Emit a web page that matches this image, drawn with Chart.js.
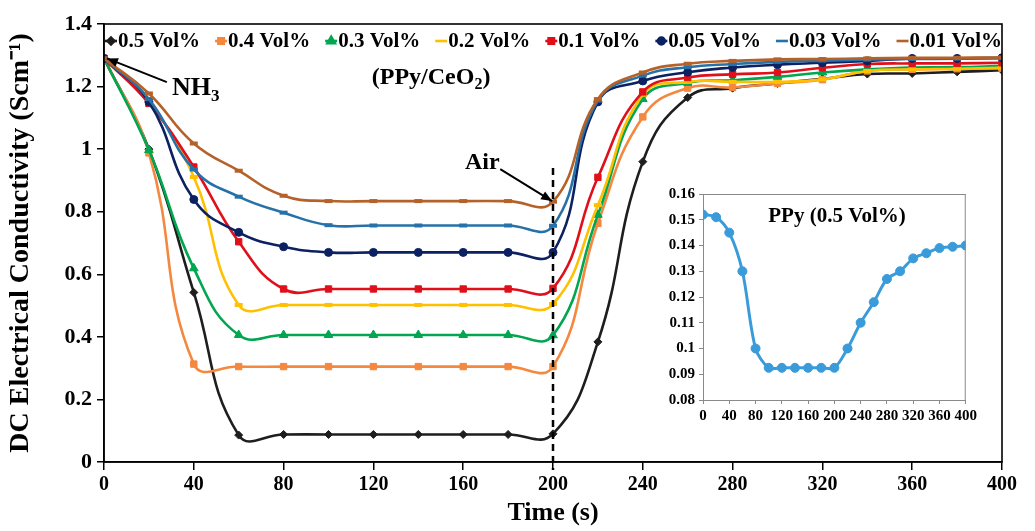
<!DOCTYPE html>
<html><head><meta charset="utf-8">
<script src="https://cdn.jsdelivr.net/npm/chart.js@4.4.1/dist/chart.umd.min.js"></script>
<style>
html,body{margin:0;padding:0;background:#fff;}
#wrap{position:relative;width:1035px;height:531px;overflow:hidden;}
#main{position:absolute;left:0;top:0;}
#inset{position:absolute;left:650px;top:180px;}
</style></head><body>
<div id="wrap"><canvas id="main" width="1035" height="531"></canvas><canvas id="inset" width="330" height="250"></canvas></div>
<script>
// ---------- data ----------
const time = [0,20,40,60,80,100,120,140,160,180,200,220,240,260,280,300,320,340,360,380,400];
const seriesLabels = ['0.5 Vol%','0.4 Vol%','0.3 Vol%','0.2 Vol%','0.1 Vol%','0.05 Vol%','0.03 Vol%','0.01 Vol%'];
const s05  = [1.29,1.00,0.542,0.086,0.088,0.088,0.088,0.088,0.088,0.088,0.090,0.384,0.960,1.165,1.195,1.210,1.225,1.240,1.242,1.247,1.252];
const s04  = [1.29,0.988,0.313,0.305,0.305,0.305,0.305,0.305,0.305,0.305,0.305,0.763,1.103,1.195,1.197,1.210,1.222,1.250,1.255,1.257,1.258];
const s03  = [1.29,0.997,0.619,0.406,0.406,0.406,0.406,0.406,0.406,0.406,0.405,0.790,1.160,1.212,1.220,1.231,1.245,1.255,1.261,1.262,1.266];
const s02  = [1.29,1.150,0.911,0.502,0.502,0.502,0.502,0.502,0.502,0.502,0.505,0.821,1.174,1.215,1.215,1.215,1.223,1.250,1.255,1.257,1.260];
const s01  = [1.29,1.146,0.943,0.704,0.553,0.553,0.553,0.553,0.553,0.553,0.555,0.910,1.183,1.229,1.239,1.245,1.260,1.272,1.274,1.274,1.276];
const s005 = [1.29,1.151,0.839,0.734,0.688,0.670,0.670,0.670,0.670,0.670,0.670,1.151,1.218,1.246,1.261,1.270,1.276,1.282,1.290,1.290,1.292];
const s003 = [1.29,1.160,0.935,0.848,0.797,0.757,0.756,0.756,0.756,0.756,0.755,1.155,1.235,1.262,1.272,1.279,1.283,1.286,1.288,1.289,1.290];
const s001 = [1.29,1.178,1.018,0.931,0.851,0.834,0.834,0.834,0.834,0.834,0.832,1.160,1.245,1.273,1.282,1.287,1.288,1.290,1.292,1.292,1.293];
const xTicks = [0,40,80,120,160,200,240,280,320,360,400];
const yTicks = [0,0.2,0.4,0.6,0.8,1,1.2,1.4];

const insetTime = [0,20,40,60,80,100,120,140,160,180,200,220,240,260,280,300,320,340,360,380,400];
const ppy = [0.152,0.151,0.145,0.130,0.100,0.0925,0.0925,0.0925,0.0925,0.0925,0.0925,0.100,0.110,0.118,0.127,0.130,0.135,0.137,0.139,0.1395,0.140];
const insetXTicks = [0,40,80,120,160,200,240,280,320,360,400];
const insetYTicks = [0.08,0.09,0.10,0.11,0.12,0.13,0.14,0.15,0.16];
const insetTitle = 'PPy (0.5 Vol%)';

// ---------- styles ----------
const FF = "'Liberation Serif','Times New Roman',serif";
Chart.defaults.font.family = FF;
Chart.defaults.font.weight = 'bold';
Chart.defaults.color = '#000';

const allSeries = [s05,s04,s03,s02,s01,s005,s003,s001];
const colors = ['#1e1e1e','#F4883F','#00A650','#FFC000','#E0101B','#0B2161','#2672A8','#B5622A'];
const pStyles = ['rectRot','rect','triangle','line','rect','circle','line','line'];
const pRadius = [4,4.5,5,4,4.5,4,4,4];
const pBorder = [1,1,1,4,1,1,4,4];

const datasets = allSeries.map((arr,i)=>({
  label: seriesLabels[i],
  data: arr.map((v,j)=>({x:time[j], y:v})),
  borderColor: colors[i],
  backgroundColor: colors[i],
  pointBackgroundColor: colors[i],
  pointBorderColor: colors[i],
  pointStyle: pStyles[i],
  pointRadius: pRadius[i],
  pointBorderWidth: pBorder[i],
  borderWidth: 2.6,
  tension: 0.45,
  order: allSeries.length - i
}));

function arrow(ctx,x1,y1,x2,y2){
  ctx.beginPath(); ctx.moveTo(x1,y1); ctx.lineTo(x2,y2); ctx.stroke();
  const ang = Math.atan2(y2-y1,x2-x1), L=11, W=4.5;
  ctx.beginPath();
  ctx.moveTo(x2,y2);
  ctx.lineTo(x2-L*Math.cos(ang)+W*Math.sin(ang), y2-L*Math.sin(ang)-W*Math.cos(ang));
  ctx.lineTo(x2-L*Math.cos(ang)-W*Math.sin(ang), y2-L*Math.sin(ang)+W*Math.cos(ang));
  ctx.closePath(); ctx.fill();
}

const framePlugin = {
  id:'frameAnno',
  afterDatasetsDraw(chart){
    const ctx = chart.ctx, a = chart.chartArea, xs = chart.scales.x, ys = chart.scales.y;
    ctx.save();
    // dashed line at Air injection
    ctx.strokeStyle='#000'; ctx.lineWidth=2.5; ctx.setLineDash([7,5]);
    const xd = xs.getPixelForValue(200);
    ctx.beginPath(); ctx.moveTo(xd, ys.getPixelForValue(0.94)); ctx.lineTo(xd, a.bottom+8); ctx.stroke();
    ctx.setLineDash([]);
    // frame
    ctx.lineWidth=1.6; ctx.strokeRect(a.left,a.top,a.right-a.left,a.bottom-a.top);
    // arrows
    ctx.fillStyle='#000'; ctx.lineWidth=2;
    arrow(ctx, xs.getPixelForValue(28), ys.getPixelForValue(1.214), xs.getPixelForValue(1.3), ys.getPixelForValue(1.29));
    arrow(ctx, xs.getPixelForValue(176.5), ys.getPixelForValue(0.936), xs.getPixelForValue(199.6), ys.getPixelForValue(0.834));
    // NH3
    ctx.textBaseline='alphabetic'; ctx.textAlign='left';
    let x = xs.getPixelForValue(30.3), y = ys.getPixelForValue(1.172);
    ctx.font = 'bold 26px '+FF; ctx.fillText('NH', x, y);
    let w = ctx.measureText('NH').width;
    ctx.font = 'bold 17px '+FF; ctx.fillText('3', x+w, y+6);
    // (PPy/CeO2)
    ctx.font = 'bold 24px '+FF;
    const p1='(PPy/CeO', p3=')';
    const w1 = ctx.measureText(p1).width, w3 = ctx.measureText(p3).width;
    ctx.font = 'bold 16px '+FF; const w2 = ctx.measureText('2').width;
    const cx = xs.getPixelForValue(145.7), by = ys.getPixelForValue(1.208);
    let sx = cx - (w1+w2+w3)/2;
    ctx.font = 'bold 24px '+FF; ctx.fillText(p1, sx, by);
    ctx.font = 'bold 16px '+FF; ctx.fillText('2', sx+w1, by+5);
    ctx.font = 'bold 24px '+FF; ctx.fillText(p3, sx+w1+w2, by);
    // Air
    ctx.font = 'bold 24px '+FF;
    ctx.fillText('Air', xs.getPixelForValue(160.8), ys.getPixelForValue(0.936));
    // legend
    ctx.font = 'bold 21px '+FF; ctx.textBaseline='middle';
    let lx = a.left+1; const ly = a.top+17;
    chart.data.datasets.forEach(ds=>{
      ctx.strokeStyle = ds.borderColor; ctx.fillStyle = ds.borderColor; ctx.lineWidth = 2.6;
      ctx.beginPath(); ctx.moveTo(lx,ly); ctx.lineTo(lx+12,ly); ctx.stroke();
      if (ds.pointStyle !== 'line') {
        Chart.helpers.drawPoint(ctx,{pointStyle:ds.pointStyle,radius:ds.pointRadius*0.85,rotation:0,borderWidth:1},lx+6,ly);
      }
      ctx.fillStyle='#000';
      ctx.fillText(ds.label, lx+13, ly+1);
      lx += 13 + ctx.measureText(ds.label).width + 15;
    });
    ctx.restore();
  }
};

new Chart(document.getElementById('main'), {
  type:'line',
  data:{datasets},
  options:{
    responsive:false, animation:false, devicePixelRatio:1,
    layout:{padding:{left:0,right:33,top:24,bottom:0}},
    plugins:{legend:{display:false}, tooltip:{enabled:false}},
    scales:{
      x:{type:'linear', min:0, max:400,
        afterBuildTicks(s){ s.ticks = xTicks.map(v=>({value:v})); },
        ticks:{autoSkip:false, maxRotation:0, font:{size:20,weight:'bold'}, color:'#000', padding:3},
        grid:{display:true, drawOnChartArea:false, drawTicks:true, tickLength:8, color:'#000', lineWidth:1.5},
        border:{display:true, color:'#000', width:1.6},
        title:{display:true, text:'Time (s)', font:{size:26,weight:'bold'}, color:'#000', padding:{top:0,bottom:2}},
        afterFit(s){ s.height = 69; }
      },
      y:{min:0, max:1.4,
        afterBuildTicks(s){ s.ticks = yTicks.map(v=>({value:v})); },
        ticks:{callback:v=>String(+(+v).toFixed(1)), font:{size:22,weight:'bold'}, color:'#000', padding:5},
        grid:{display:true, drawOnChartArea:false, drawTicks:true, tickLength:7, color:'#000', lineWidth:1.5},
        border:{display:true, color:'#000', width:1.6},
        title:{display:true, text:'DC Electrical Conductivity (Scm\u207B\u00B9)', font:{size:28,weight:'bold'}, color:'#000', padding:{top:4,bottom:0}},
        afterFit(s){ s.width = 104; }
      }
    }
  },
  plugins:[framePlugin]
});

// ---------- inset ----------
const insetPlugin = {
  id:'insetFrame',
  afterDatasetsDraw(chart){
    const ctx = chart.ctx, a = chart.chartArea, xs = chart.scales.x, ys = chart.scales.y;
    ctx.save();
    ctx.strokeStyle='#8a8a8a'; ctx.lineWidth=1;
    ctx.beginPath();
    ctx.moveTo(a.left, a.top+0.5); ctx.lineTo(a.right, a.top+0.5);
    ctx.moveTo(a.right-0.5, a.top); ctx.lineTo(a.right-0.5, a.bottom);
    ctx.stroke();
    ctx.fillStyle='#000'; ctx.font='bold 21px '+FF; ctx.textAlign='center'; ctx.textBaseline='alphabetic';
    ctx.fillText(insetTitle, xs.getPixelForValue(204), ys.getPixelForValue(0.149));
    ctx.restore();
  }
};

new Chart(document.getElementById('inset'), {
  type:'line',
  data:{datasets:[{
    label: insetTitle,
    data: ppy.map((v,j)=>({x:insetTime[j], y:v})),
    borderColor:'#3A9BDA', backgroundColor:'#3A9BDA',
    pointBackgroundColor:'#3A9BDA', pointBorderColor:'#3A9BDA',
    pointRadius:4.5, pointBorderWidth:1, borderWidth:3, tension:0.3
  }]},
  options:{
    responsive:false, animation:false, devicePixelRatio:1,
    layout:{padding:{left:0,right:12,top:14,bottom:0}},
    plugins:{legend:{display:false}, tooltip:{enabled:false}},
    scales:{
      x:{type:'linear', min:0, max:400,
        afterBuildTicks(s){ s.ticks = insetXTicks.map(v=>({value:v})); },
        ticks:{autoSkip:false, maxRotation:0, font:{size:15,weight:'bold'}, color:'#000', padding:3},
        grid:{display:true, drawOnChartArea:false, drawTicks:true, tickLength:4, color:'#8a8a8a', lineWidth:1},
        border:{display:true, color:'#8a8a8a', width:1},
        afterFit(s){ s.height = 30; }
      },
      y:{min:0.08, max:0.16,
        afterBuildTicks(s){ s.ticks = insetYTicks.map(v=>({value:v})); },
        ticks:{callback:v=>String(+(+v).toFixed(2)), font:{size:15,weight:'bold'}, color:'#000', padding:4},
        grid:{display:true, drawOnChartArea:false, drawTicks:true, tickLength:4, color:'#8a8a8a', lineWidth:1},
        border:{display:true, color:'#8a8a8a', width:1},
        afterFit(s){ s.width = 53; }
      }
    }
  },
  plugins:[insetPlugin]
});
</script>
</body></html>
